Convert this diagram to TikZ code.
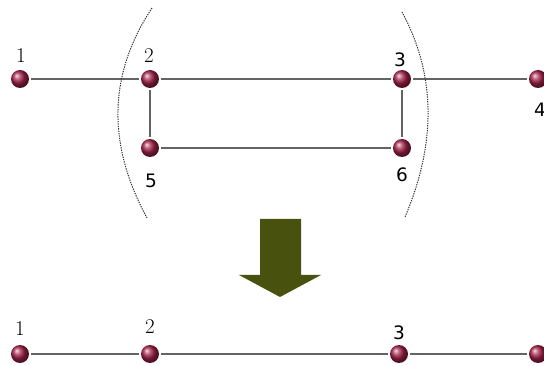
\documentclass[tikz,border=0pt]{standalone}
\usepackage{fontspec}
\newfontfamily\labsans{DejaVu Sans}
\definecolor{ballred}{RGB}{165,35,75}
\definecolor{edgegray}{RGB}{100,100,100}
\definecolor{arrowgreen}{RGB}{72,82,14}
\tikzset{
  atom/.style={circle, minimum size=18pt, inner sep=0pt, outer sep=2pt, shading=ball, ball color=ballred},
  bond/.style={draw=edgegray, line width=1.4pt},
  serifnum/.style={inner sep=0pt, font=\fontsize{21}{21}\selectfont},
  sansnum/.style={inner sep=0pt, font=\labsans\fontsize{18.5}{18.5}\selectfont},
  brace/.style={draw=black!80, line width=1pt, dash pattern=on 1.3pt off 1.1pt}
}
\begin{document}
\begin{tikzpicture}[x=1pt,y=-1pt]
\useasboundingbox (0,0) rectangle (544,366);
% top graph
\node[atom] (a1) at (20,79) {};
\node[atom] (a2) at (150,79) {};
\node[atom] (a3) at (402,79) {};
\node[atom] (a4) at (538,79) {};
\node[atom] (a5) at (150,148) {};
\node[atom] (a6) at (402,148) {};
\draw[bond] (a1) -- (a2);
\draw[bond] (a2) -- (a3);
\draw[bond] (a3) -- (a4);
\draw[bond] (a2) -- (a5);
\draw[bond] (a3) -- (a6);
\draw[bond] (a5) -- (a6);
\node[serifnum] (t1) at (21,56) {1};
\node[serifnum] (t2) at (149,56) {2};
\node[sansnum] (t3) at (400,60) {3};
\node[sansnum] (t4) at (540,110) {4};
\node[sansnum] (t5) at (151,181) {5};
\node[sansnum] (t6) at (402,175) {6};
% brackets
\coordinate (lb1) at (152,8);
\coordinate (lb2) at (147,218);
\coordinate (rb1) at (402,12);
\coordinate (rb2) at (405,217);
\draw[brace] (lb1) .. controls (108.3,74) and (106.7,144) .. (lb2);
\draw[brace] (rb1) .. controls (435.7,74.3) and (436.7,142.7) .. (rb2);
% big arrow
\fill[arrowgreen] (260,219) -- (301,219) -- (301,275) -- (321,275) -- (280,297) -- (239,275) -- (260,275) -- cycle;
% bottom graph
\node[atom] (b1) at (20,354) {};
\node[atom] (b2) at (150,354) {};
\node[atom] (b3) at (399,354) {};
\node[atom] (b4) at (538,354) {};
\draw[bond] (b1) -- (b2);
\draw[bond] (b2) -- (b3);
\draw[bond] (b3) -- (b4);
\node[serifnum] (u1) at (20,329) {1};
\node[serifnum] (u2) at (150,327) {2};
\node[sansnum] (u3) at (399,333) {3};
\end{tikzpicture}
\end{document}
